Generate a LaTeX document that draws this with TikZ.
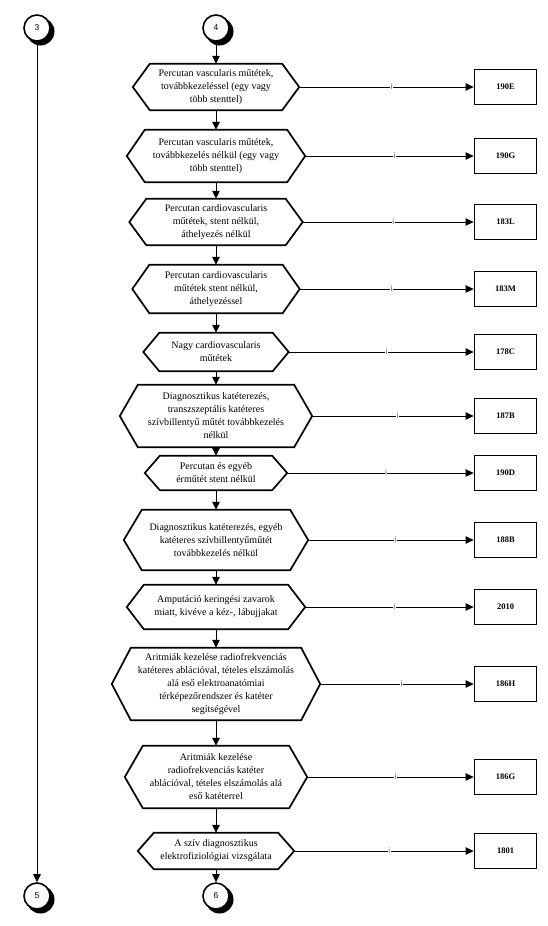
\documentclass[tikz,border=0pt]{standalone}
\usepackage{fontspec}
\setmainfont{Liberation Serif}
\setsansfont{Liberation Sans}
\usetikzlibrary{arrows.meta}
\newcommand{\hexnode}[6]{%
  \node[hexn, minimum width=#3, minimum height=#4] (#1) at (216,-#2) {#6};
  \draw[hexline] (#1.west) -- ([xshift=#5]#1.north west) -- ([xshift=-#5]#1.north east) -- (#1.east) -- ([xshift=-#5]#1.south east) -- ([xshift=#5]#1.south west) -- cycle;
}
\newcommand{\connnode}[4]{%
  \fill[black] ({#2+3.5},{-#3-3.5}) circle (14);
  \node[conn] (#1) at (#2,-#3) {#4};
}
\tikzset{
  hexn/.style={draw=none, align=center, inner sep=0pt, font=\fontsize{10}{13}\selectfont},
  hexline/.style={line width=1.7pt, line join=miter},
  codebox/.style={draw, line width=1.8pt, minimum width=62, minimum height=35, inner sep=0pt, font=\fontsize{8.5}{9}\selectfont\bfseries},
  conn/.style={circle, draw, line width=1.6pt, fill=white, minimum size=26, inner sep=0pt, font=\sffamily\fontsize{8.5}{9}\selectfont},
  arr/.style={line width=1pt, -{Triangle[length=8pt,width=7.5pt]}},
  ilabel/.style={fill=white, inner sep=0.6pt, font=\sffamily\fontsize{8}{8}\selectfont, text=black!65}
}
\begin{document}
\begin{tikzpicture}[x=1pt,y=1pt]
\useasboundingbox (0,0) rectangle (547,-926);
\connnode{c3}{37}{28}{3}
\connnode{c4}{216}{28}{4}
\connnode{c5}{37}{896}{5}
\connnode{c6}{216}{896}{6}

\hexnode{h1}{87}{166}{46}{17}{Percutan vascularis műtétek,\\továbbkezeléssel (egy vagy\\több stenttel)}
\hexnode{h2}{156}{178}{52}{18}{Percutan vascularis műtétek,\\továbbkezelés nélkül (egy vagy\\több stenttel)}
\hexnode{h3}{222}{173}{46}{17}{Percutan cardiovascularis\\műtétek, stent nélkül,\\áthelyezés nélkül}
\hexnode{h4}{289}{167}{48}{17}{Percutan cardiovascularis\\műtétek stent nélkül,\\áthelyezéssel}
\hexnode{h5}{352}{145}{38}{16}{Nagy cardiovascularis\\műtétek}
\hexnode{h6}{416}{192}{62}{18}{Diagnosztikus katéterezés,\\transzszeptális katéteres\\szívbillentyű műtét továbbkezelés\\nélkül}
\hexnode{h7}{473}{142}{34}{15}{Percutan és egyéb\\érműtét stent nélkül}
\hexnode{h8}{540}{184}{60}{18}{Diagnosztikus katéterezés, egyéb\\katéteres szívbillentyűműtét\\továbbkezelés nélkül}
\hexnode{h9}{607}{178}{44}{17}{Amputáció keringési zavarok\\miatt, kivéve a kéz-, lábujjakat}
\hexnode{h10}{684}{208}{72}{19}{Aritmiák kezelése radiofrekvenciás\\katéteres ablációval, tételes elszámolás\\alá eső elektroanatómiai\\térképezőrendszer és katéter\\segítségével}
\hexnode{h11}{777}{182}{62}{18}{Aritmiák kezelése\\radiofrekvenciás katéter\\ablációval, tételes elszámolás alá\\eső katéterrel}
\hexnode{h12}{851}{156}{36}{16}{A szív diagnosztikus\\elektrofiziológiai vizsgálata}

\node[codebox] (b1) at (505.5,-87) {190E};
\node[codebox] (b2) at (505.5,-156) {190G};
\node[codebox] (b3) at (505.5,-222) {183L};
\node[codebox] (b4) at (505.5,-289) {183M};
\node[codebox] (b5) at (505.5,-352) {178C};
\node[codebox] (b6) at (505.5,-416) {187B};
\node[codebox] (b7) at (505.5,-473) {190D};
\node[codebox] (b8) at (505.5,-540) {188B};
\node[codebox] (b9) at (505.5,-607) {2010};
\node[codebox] (b10) at (505.5,-684) {186H};
\node[codebox] (b11) at (505.5,-777) {186G};
\node[codebox] (b12) at (505.5,-851) {1801};

\draw[arr] (c3) -- (c5);
\draw[arr] (c4) -- (h1);
\foreach \a/\b in {h1/h2,h2/h3,h3/h4,h4/h5,h5/h6,h6/h7,h7/h8,h8/h9,h9/h10,h10/h11,h11/h12}
  \draw[arr] (\a.south) -- (\b.north);
\draw[arr] (h12) -- (c6);
\foreach \i in {1,...,12}
  \draw[arr] (h\i.east) -- (b\i.west) node[ilabel, pos=0.53] {i};
\end{tikzpicture}
\end{document}
